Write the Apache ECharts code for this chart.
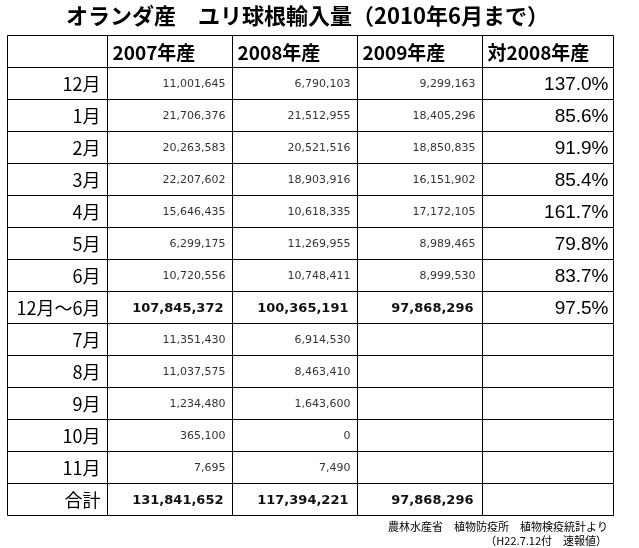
<!DOCTYPE html>
<html>
<head>
<meta charset="utf-8">
<script src="https://cdn.jsdelivr.net/npm/echarts@6/dist/echarts.min.js"></script>
<style>
html, body { margin: 0; padding: 0; background: #fff; }
#chart { width: 639px; height: 548px; }
</style>
</head>
<body>
<div id="chart"></div>
<script>
// 表のデータ
var headers = ['', '2007年産', '2008年産', '2009年産', '対2008年産'];
var rowLabels = ['12月', '1月', '2月', '3月', '4月', '5月', '6月', '12月～6月', '7月', '8月', '9月', '10月', '11月', '合計'];
var y2007 = [11001645, 21706376, 20263583, 22207602, 15646435, 6299175, 10720556, 107845372, 11351430, 11037575, 1234480, 365100, 7695, 131841652];
var y2008 = [6790103, 21512955, 20521516, 18903916, 10618335, 11269955, 10748411, 100365191, 6914530, 8463410, 1643600, 0, 7490, 117394221];
var y2009 = [9299163, 18405296, 18850835, 16151902, 17172105, 8989465, 8999530, 97868296, null, null, null, null, null, 97868296];
var ratio = [137.0, 85.6, 91.9, 85.4, 161.7, 79.8, 83.7, 97.5, null, null, null, null, null, null];
var boldRows = ['12月～6月', '合計'];

window.onload = function () {
    var chart = echarts.init(document.getElementById('chart'));

    // 列の幅（レイアウト用）
    var colWidths = [100, 125, 125, 125, 131];
    var edges = [0];
    colWidths.forEach(function (w, i) { edges.push(edges[i] + w); });

    var cjk = '"Noto Sans CJK JP"';

    // セルを作る
    var cells = [];
    headers.forEach(function (h, c) {
        cells.push({ value: [c, 0], text: h, kind: 'header' });
    });
    rowLabels.forEach(function (label, i) {
        var r = i + 1;
        var bold = boldRows.indexOf(label) >= 0;
        cells.push({ value: [0, r], text: label, kind: 'label' });
        [y2007, y2008, y2009].forEach(function (arr, k) {
            var v = arr[i];
            cells.push({ value: [k + 1, r], text: v == null ? '' : v.toLocaleString('en-US'), kind: bold ? 'bold' : 'num' });
        });
        cells.push({ value: [4, r], text: ratio[i] == null ? '' : ratio[i].toFixed(1) + '%', kind: 'pct' });
    });

    function renderItem(params, api) {
        var c = api.value(0), r = api.value(1);
        var p0 = api.coord([edges[c], r]);
        var p1 = api.coord([edges[c + 1], r + 1]);
        var x0 = Math.round(p0[0]) + 0.5, y0 = Math.round(p0[1]) + 0.5;
        var x1 = Math.round(p1[0]) + 0.5, y1 = Math.round(p1[1]) + 0.5;
        var cell = cells[params.dataIndex];
        var ym = (y0 + y1) / 2;
        var st;
        if (cell.kind === 'header') {
            st = { x: x0 + 5, align: 'left', font: 'bold 19px ' + cjk, fill: '#000' };
        } else if (cell.kind === 'label') {
            st = { x: x1 - 7, align: 'right', font: '18px ' + cjk, fill: '#000' };
        } else if (cell.kind === 'bold') {
            st = { x: x1 - 9, align: 'right', font: 'bold 13px "DejaVu Sans"', fill: '#111' };
        } else if (cell.kind === 'pct') {
            st = { x: x1 - 5, align: 'right', font: '19px "Liberation Sans"', fill: '#000' };
        } else {
            st = { x: x1 - 7, align: 'right', font: '11px "DejaVu Sans"', fill: '#333' };
        }
        st.y = ym + 1;
        st.text = cell.text;
        st.verticalAlign = 'middle';
        return {
            type: 'group',
            children: [
                {
                    type: 'rect',
                    shape: { x: x0, y: y0, width: x1 - x0, height: y1 - y0 },
                    style: { fill: '#fff', stroke: '#000', lineWidth: 1 }
                },
                { type: 'text', style: st }
            ]
        };
    }

    var option = {
        backgroundColor: '#fff',
        animation: false,
        title: [
            {
                text: 'オランダ産　ユリ球根輸入量（2010年6月まで）',
                left: 66,
                top: 5,
                padding: 0,
                textStyle: { fontFamily: cjk, fontSize: 22, fontWeight: 'bold', color: '#000' }
            },
            {
                text: '農林水産省　植物防疫所　植物検疫統計より',
                right: 31,
                top: 521,
                padding: 0,
                textStyle: { fontFamily: cjk, fontSize: 11, fontWeight: 'normal', color: '#000' }
            },
            {
                text: '（H22.7.12付　速報値）',
                right: 32,
                top: 535,
                padding: 0,
                textStyle: { fontFamily: cjk, fontSize: 11, fontWeight: 'normal', color: '#000' }
            }
        ],
        grid: { left: 7, top: 35, width: 606, height: 480 },
        xAxis: { type: 'value', min: 0, max: edges[edges.length - 1], show: false },
        yAxis: { type: 'value', min: 0, max: rowLabels.length + 1, inverse: true, show: false },
        series: [{
            type: 'custom',
            renderItem: renderItem,
            data: cells,
            silent: true
        }]
    };

    chart.setOption(option);
};
</script>
</body>
</html>
